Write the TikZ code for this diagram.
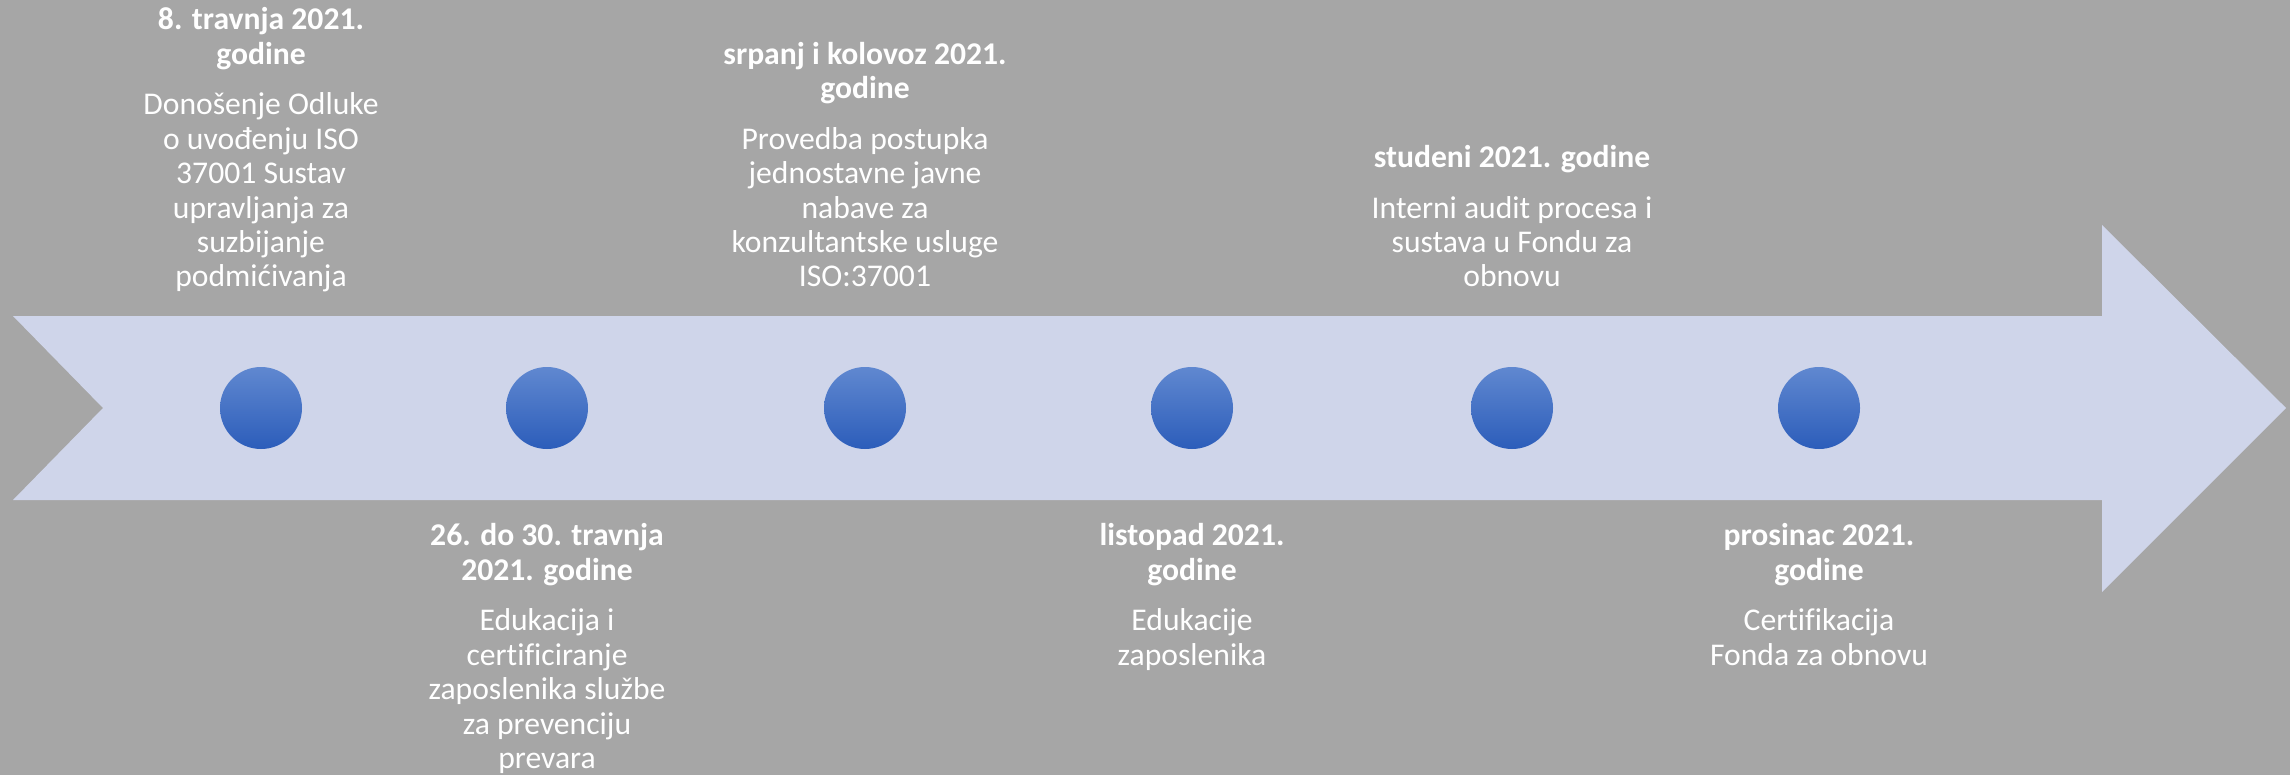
\documentclass[tikz,border=0pt]{standalone}
\usepackage{fontspec}
\setmainfont{Carlito}[Ligatures=NoCommon]
\definecolor{bggray}{HTML}{A6A6A6}
\definecolor{arrowfill}{HTML}{CFD5EA}
\definecolor{dottop}{HTML}{6088D0}
\definecolor{dotbot}{HTML}{2C5DBA}
\begin{document}
\begin{tikzpicture}[x=0.1mm,y=0.1mm,
  dot/.style={circle, minimum size=8.2mm, inner sep=0, top color=dottop, bottom color=dotbot},
  evtext/.style={text=white, align=center, inner sep=0, font=\fontsize{9}{9.8}\selectfont},
  toptext/.style={evtext, anchor=south},
  bottext/.style={evtext, anchor=north}]
% background and the big arrow
\fill [bggray] (0,0) rectangle (2290,775);
\useasboundingbox (0,0) rectangle (2290,775);
\fill [arrowfill] (13,459) -- (2102,459) -- (2102,550) -- (2286,367) -- (2102,183) -- (2102,275) -- (13,275) -- (103,367) -- cycle;
% dots on the arrow
\node [dot] (d1) at (261,367) {};
\node [dot] (d2) at (547,367) {};
\node [dot] (d3) at (865,367) {};
\node [dot] (d4) at (1192,367) {};
\node [dot] (d5) at (1512,367) {};
\node [dot] (d6) at (1819,367) {};
% texts above
\node [toptext] (t1) at (261,477) {\strut\textbf{8. travnja 2021.}\\\textbf{godine}\\[1.6mm]Donošenje Odluke\\o uvođenju ISO\\37001 Sustav\\upravljanja za\\suzbijanje\\podmićivanja\strut};
\node [toptext] (t3) at (865,477) {\strut\textbf{srpanj i kolovoz 2021.}\\\textbf{godine}\\[1.6mm]Provedba postupka\\jednostavne javne\\nabave za\\konzultantske usluge\\ISO:37001\strut};
\node [toptext] (t5) at (1512,477) {\strut\textbf{studeni 2021. godine}\\[1.6mm]Interni audit procesa i\\sustava u Fondu za\\obnovu\strut};
% texts below
\node [bottext] (t2) at (547,254) {\strut\textbf{26. do 30. travnja}\\\textbf{2021. godine}\\[1.6mm]Edukacija i\\certificiranje\\zaposlenika službe\\za prevenciju\\prevara\strut};
\node [bottext] (t4) at (1192,254) {\strut\textbf{listopad 2021.}\\\textbf{godine}\\[1.6mm]Edukacije\\zaposlenika\strut};
\node [bottext] (t6) at (1819,254) {\strut\textbf{prosinac 2021.}\\\textbf{godine}\\[1.6mm]Certifikacija\\Fonda za obnovu\strut};
\end{tikzpicture}
\end{document}
